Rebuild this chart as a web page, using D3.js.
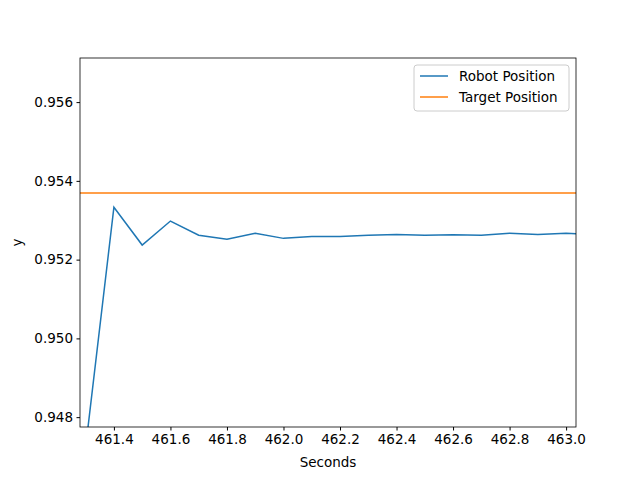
<!DOCTYPE html>
<html><head><meta charset="utf-8">
<script src="https://cdn.jsdelivr.net/npm/d3@7"></script>
<style>body{margin:0;background:#fff}text{font-family:"DejaVu Sans",sans-serif}</style>
</head><body><svg id="c" width="640" height="480"></svg>
<script>
const seconds = [461.3,461.4,461.5,461.6,461.7,461.8,461.9,462.0,462.1,462.2,462.3,462.4,462.5,462.6,462.7,462.8,462.9,463.0,463.1];
const robotPos = [0.94724,0.95333,0.95237,0.95298,0.95262,0.95252,0.95267,0.95254,0.95259,0.95259,0.95262,0.95264,0.95262,0.95263,0.95262,0.95267,0.95264,0.95267,0.95264];
const targetPos = 0.953689;
const xTicks = [461.4,461.6,461.8,462.0,462.2,462.4,462.6,462.8,463.0];
const yTicks = [0.948,0.950,0.952,0.954,0.956];

const L = 80, R = 576, T = 58, B = 427;
const svg = d3.select('#c');
const x = d3.scaleLinear().domain([461.28, 463.035]).range([L, R]);
const y = d3.scaleLinear().domain([0.94775, 0.95712]).range([B, T]);

svg.append('clipPath').attr('id', 'clip')
    .append('rect').attr('x', L).attr('y', T).attr('width', R - L).attr('height', B - T);

const g = svg.append('g').attr('clip-path', 'url(#clip)');
g.append('path').attr('fill', 'none').attr('stroke', '#1f77b4').attr('stroke-width', 1.5)
    .attr('d', d3.line().x((d, i) => x(seconds[i])).y(d => y(d))(robotPos));
g.append('line').attr('stroke', '#ff7f0e').attr('stroke-width', 1.5)
    .attr('x1', L).attr('x2', R).attr('y1', y(targetPos)).attr('y2', y(targetPos));

svg.append('g').attr('transform', `translate(0,${B})`)
    .call(d3.axisBottom(x).tickValues(xTicks).tickFormat(d3.format('.1f')).tickSize(3.5).tickPadding(3.5))
    .call(a => a.select('.domain').remove());
svg.append('g').attr('transform', `translate(${L},0)`)
    .call(d3.axisLeft(y).tickValues(yTicks).tickFormat(d3.format('.3f')).tickSize(3.5).tickPadding(3.5))
    .call(a => a.select('.domain').remove());
svg.selectAll('.tick text').attr('font-size', 13.5).attr('fill', '#000');
svg.selectAll('.tick line').attr('stroke', '#000');

svg.append('rect').attr('x', L).attr('y', T).attr('width', R - L).attr('height', B - T)
    .attr('fill', 'none').attr('stroke', '#000').attr('stroke-width', 0.8);

svg.append('text').attr('x', (L + R) / 2).attr('y', 467).attr('text-anchor', 'middle')
    .attr('font-size', 13.5).text('Seconds');
svg.append('text').attr('transform', `translate(22,${(T + B) / 2}) rotate(-90)`)
    .attr('text-anchor', 'middle').attr('font-size', 13.5).text('y');

const leg = svg.append('g');
leg.append('rect').attr('x', 414).attr('y', 65).attr('width', 155).attr('height', 46)
    .attr('rx', 3).attr('fill', '#fff').attr('fill-opacity', 0.8).attr('stroke', '#ccc');
[['Robot Position', '#1f77b4'], ['Target Position', '#ff7f0e']].forEach((d, i) => {
    const yy = 76 + i * 21;
    leg.append('line').attr('x1', 420).attr('x2', 448).attr('y1', yy).attr('y2', yy)
        .attr('stroke', d[1]).attr('stroke-width', 1.5);
    leg.append('text').attr('x', 459).attr('y', yy + 5).attr('font-size', 13.5).text(d[0]);
});
</script></body></html>
